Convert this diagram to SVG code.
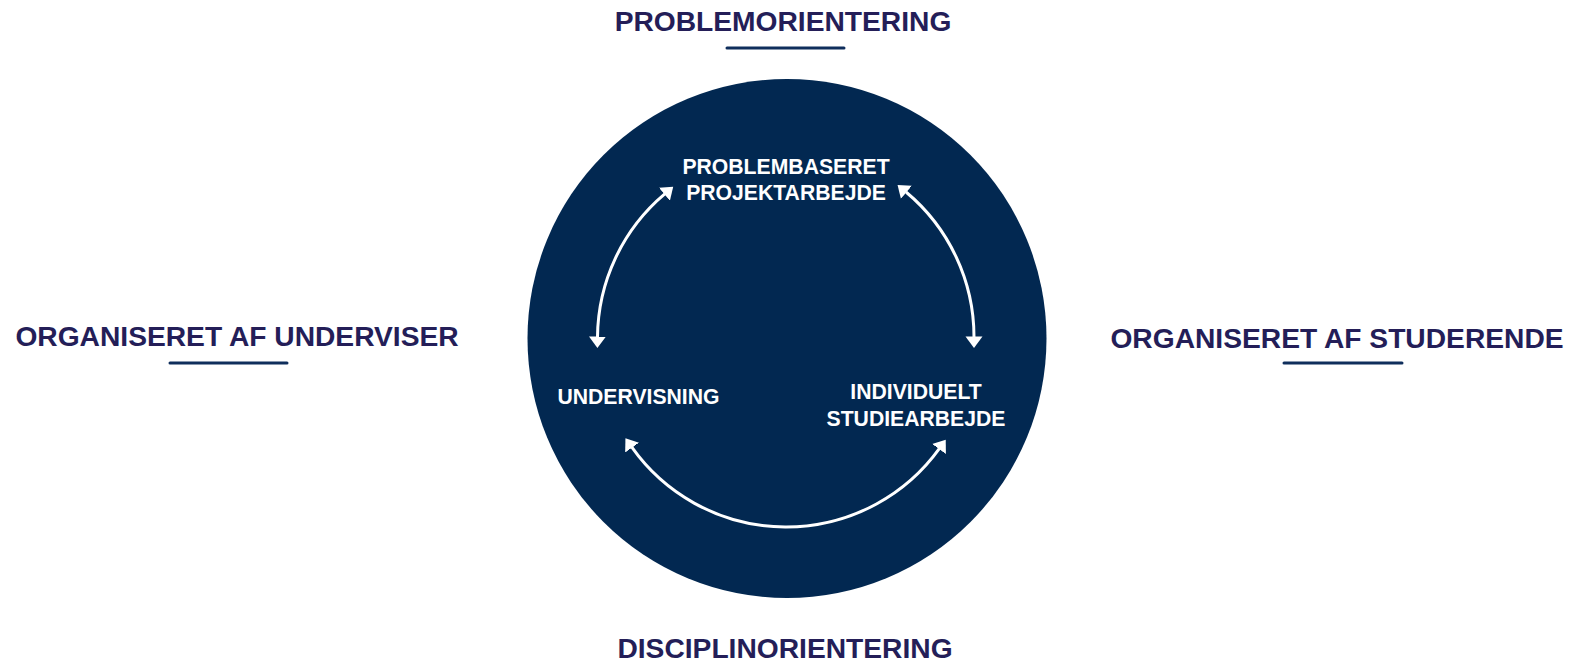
<svg xmlns="http://www.w3.org/2000/svg" width="1570" height="669" viewBox="0 0 1570 669">
<style>
.title{font-family:"Liberation Sans",Arial,sans-serif;font-weight:bold;font-size:28.2px;fill:#241e58;text-anchor:middle}
.inner{font-family:"Liberation Sans",Arial,sans-serif;font-weight:bold;font-size:21.2px;fill:#ffffff;text-anchor:middle}
.uline{stroke:#0f2e5c;stroke-width:3;stroke-linecap:round}
.arc{fill:none;stroke:#ffffff;stroke-width:3}
</style>
<defs>
<marker id="ah" markerUnits="userSpaceOnUse" markerWidth="12" markerHeight="18" viewBox="0 -9 12 18" refX="0.5" refY="0" orient="auto-start-reverse">
<path d="M0,-8.5 L11.5,0 L0,8.5 z" fill="#ffffff"/>
</marker>
</defs>
<rect width="1570" height="669" fill="#ffffff"/>
<g id="circle">
<circle cx="787" cy="338.5" r="259.5" fill="#022851"/>
</g>
<g id="problemorientering">
<text class="title" x="783" y="31">PROBLEMORIENTERING</text>
<line class="uline" x1="727" y1="48" x2="844" y2="48"/>
</g>
<g id="disciplinorientering">
<text class="title" x="785" y="658">DISCIPLINORIENTERING</text>
</g>
<g id="organiseret-underviser">
<text class="title" x="237" y="346">ORGANISERET AF UNDERVISER</text>
<line class="uline" x1="170" y1="363" x2="287" y2="363"/>
</g>
<g id="organiseret-studerende">
<text class="title" x="1337" y="348">ORGANISERET AF STUDERENDE</text>
<line class="uline" x1="1284" y1="363" x2="1402" y2="363"/>
</g>
<g id="problembaseret">
<text class="inner" x="786" y="174">PROBLEMBASERET</text>
<text class="inner" x="786" y="200">PROJEKTARBEJDE</text>
</g>
<g id="undervisning">
<text class="inner" x="638.5" y="404">UNDERVISNING</text>
</g>
<g id="individuelt">
<text class="inner" x="916" y="399">INDIVIDUELT</text>
<text class="inner" x="916" y="426">STUDIEARBEJDE</text>
</g>
<g id="connectors">
<path class="arc" d="M597.5 337 A189 189 0 0 1 664.8 193.9" marker-start="url(#ah)" marker-end="url(#ah)"/>
<path class="arc" d="M906 192 A189 189 0 0 1 974 337" marker-start="url(#ah)" marker-end="url(#ah)"/>
<path class="arc" d="M939.3 448.6 A189 189 0 0 1 631.8 447.2" marker-start="url(#ah)" marker-end="url(#ah)"/>
</g>
</svg>
